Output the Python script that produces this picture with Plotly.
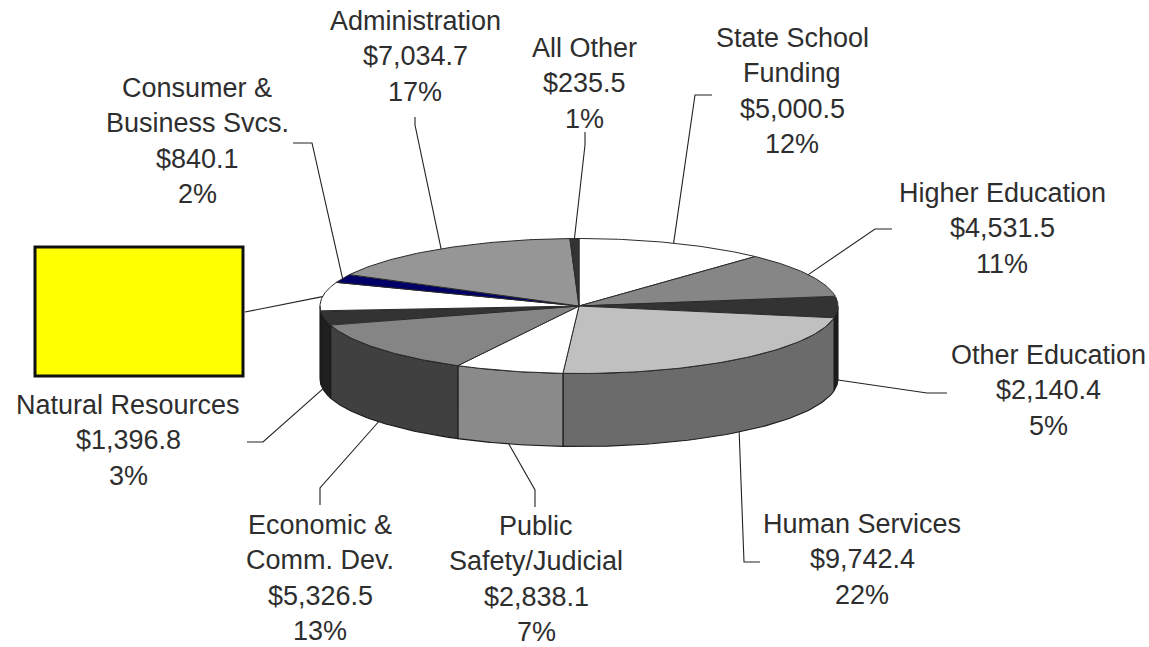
import numpy as np
import plotly.graph_objects as go

# Budget categories, clockwise from twelve o'clock
names = ["State School<br>Funding", "Higher Education", "Other Education", "Human Services",
         "Public<br>Safety/Judicial", "Economic &<br>Comm. Dev.", "Natural Resources",
         "", "Consumer &<br>Business Svcs.", "Administration", "All Other"]
values = [5000.5, 4531.5, 2140.4, 9742.4, 2838.1, 5326.5, 1396.8, 2913.5, 840.1, 7034.7, 235.5]
percents = [12, 11, 5, 22, 7, 13, 3, 7, 2, 17, 1]

top_colors = ["#ffffff", "#868686", "#333333", "#c0c0c0", "#ffffff", "#858585", "#333333",
              "#ffffff", "#000066", "#969696", "#333333"]
side_colors = ["#8c8c8c", "#444444", "#1c1c1c", "#6b6b6b", "#8a8a8a", "#404040", "#1f1f1f",
               "#1f1f1f", "#000033", "#4b4b4b", "#1c1c1c"]

# Pie geometry in page pixels
CX, CY, RX, RY, DEPTH = 579, 306, 259, 67.5, 73
TEXT = "#2e2e2e"
LINE_STEP = 35.3

# Label placement: centre x and first-line y per slice (the eighth has no text)
label_x = [792, 1002, 1048, 862, 536, 320, 128, None, 197, 415, 584]
label_y = [38, 193, 355, 524, 526, 525, 405, None, 88, 21, 48]

# Leader-line bends after leaving the slice
leader_bends = [
    [(695, 95), (712, 95)],
    [(875, 229), (892, 229)],
    [(927, 393), (947, 393)],
    [(744, 562), (760, 562)],
    [(535, 490), (535, 507)],
    [(320, 488), (320, 505)],
    [(263, 442), (247, 442)],
    [(245, 312)],
    [(312, 143), (293, 143)],
    [(415, 125), (415, 117)],
    [(585, 145), (585, 132)],
]
# Share of the wall height at which each leader starts (0 = top face rim)
wall_drop = [0, 0, 1, 1, 1, 1, 0.95, 0, 0, 0, 0]

edges = np.concatenate([[0], np.cumsum(values)]) / sum(values) * 360


def rim(theta_deg):
    t = np.radians(theta_deg)
    return CX + RX * np.sin(t), CY - RY * np.cos(t)


fig = go.Figure()


def add_poly(xs, ys, color, lw=1.1, line_color="#1a1a1a"):
    fig.add_trace(go.Scatter(x=xs, y=ys, mode="lines", fill="toself", fillcolor=color,
                             line=dict(color=line_color, width=lw), hoverinfo="skip",
                             showlegend=False))


# Rim wall: only the front half of the disc is visible
for i in range(len(values)):
    a, b = max(edges[i], 90), min(edges[i + 1], 270)
    if b <= a:
        continue
    th = np.linspace(a, b, 60)
    x, y = rim(th)
    add_poly(np.r_[x, x[::-1], x[0]], np.r_[y, y[::-1] + DEPTH, y[0]], side_colors[i])

# Top face wedges
for i in range(len(values)):
    th = np.linspace(edges[i], edges[i + 1], 60)
    x, y = rim(th)
    add_poly(np.r_[CX, x, CX], np.r_[CY, y, CY], top_colors[i], lw=1.0, line_color="#2b2b2b")

# Leader lines start at each slice's mid angle
for i, bends in enumerate(leader_bends):
    mid = (edges[i] + edges[i + 1]) / 2
    sx, sy = rim(mid)
    sy = sy + DEPTH * wall_drop[i]
    px = [sx] + [p[0] for p in bends]
    py = [sy] + [p[1] for p in bends]
    fig.add_trace(go.Scatter(x=px, y=py, mode="lines", line=dict(color="#222222", width=1.1),
                             hoverinfo="skip", showlegend=False))

# Multi-line labels; each line is placed on its own for the wider leading
annotations = []
for i, name in enumerate(names):
    if label_x[i] is None:
        continue
    lines = name.split("<br>") + [f"${values[i]:,.1f}", f"{percents[i]}%"]
    for j, text in enumerate(lines):
        annotations.append(dict(x=label_x[i], y=label_y[i] + j * LINE_STEP, text=text,
                                xref="x", yref="y", showarrow=False, xanchor="center",
                                yanchor="middle",
                                font=dict(family="Liberation Sans", size=27, color=TEXT)))

fig.update_layout(
    width=1149, height=647, margin=dict(l=0, r=0, t=0, b=0),
    paper_bgcolor="white", plot_bgcolor="white", showlegend=False,
    xaxis=dict(range=[0, 1149], visible=False, fixedrange=True),
    yaxis=dict(range=[647, 0], visible=False, fixedrange=True),
    annotations=annotations,
    shapes=[dict(type="rect", x0=35, x1=243, y0=247, y1=376, xref="x", yref="y",
                 fillcolor="#ffff00", line=dict(color="#111111", width=3))],
)
fig.write_html("out.html")
